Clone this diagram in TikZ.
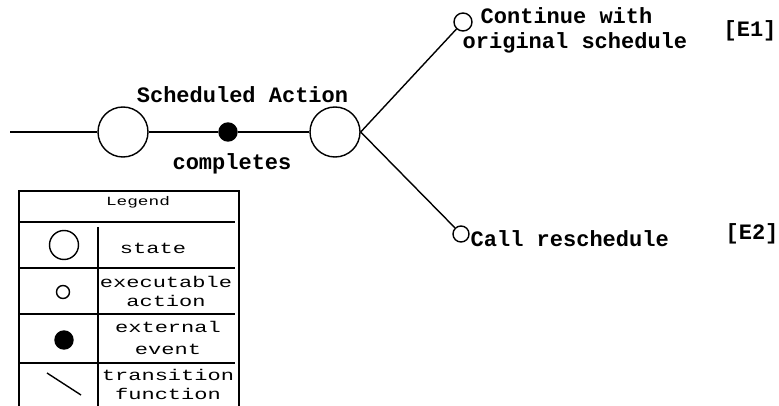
\documentclass[tikz,border=0pt]{standalone}
\usepackage{fontspec}
\usepackage{tikz}
\usetikzlibrary{positioning}
\newfontfamily\diagmono{Liberation Mono}
\newfontfamily\legendmono[FakeStretch=1.42]{Liberation Mono}

\begin{document}
\begin{tikzpicture}[
  x=1pt, y=-1pt,
  every path/.style={line width=1.4pt},
  state/.style={draw, circle, inner sep=0pt, minimum size=50pt},
  action/.style={draw, circle, inner sep=0pt, minimum size=18pt},
  event/.style={draw, fill=black, circle, inner sep=0pt, minimum size=18pt},
  lbl/.style={inner sep=0pt, font=\diagmono\bfseries\fontsize{22}{25}\selectfont},
  ltext/.style={inner sep=0pt, align=center, font=\legendmono\fontsize{15.5}{19}\selectfont}
]
\useasboundingbox (0,0) rectangle (779,406);

% main path
\coordinate (in) at (10,132);
\node[state] (s1) at (123,132) {};
\node[event] (ev) at (228,132) {};
\node[state] (s2) at (335,132) {};
\node[action] (a1) at (463,22) {};
\node[action, minimum size=16pt] (a2) at (461,234) {};

\draw (in) -- (s1);
\draw (s1) -- (ev);
\draw (ev) -- (s2);
\draw (s2.east) -- (a1);
\draw (s2.east) -- (a2);

\node[lbl, anchor=base] (sa) at (242.5,103) {Scheduled Action};
\node[lbl, anchor=base] (cp) at (232,170) {completes};
\node[lbl, anchor=base west] (a1t) at (480,24) {Continue with};
\node[lbl, anchor=base west] (a1u) at (462,49) {original schedule};
\node[lbl] (e1) at (750,31) {[E1]};
\node[lbl, anchor=base west] (a2t) at (470,247) {Call reschedule};
\node[lbl] (e2) at (752,234) {[E2]};

% legend
\draw (19,406) -- (19,191) -- (239,191) -- (239,406);
\draw (19,222) -- (235,222);
\draw (98,227) -- (98,406);
\draw (19,268) -- (235,268);
\draw (19,314) -- (235,314);
\draw (19,363) -- (235,363);

\node[ltext, font=\legendmono\fontsize{12.5}{15}\selectfont] (lg) at (138,202) {Legend};

\node[state, minimum size=29pt] (ls) at (64,245) {};
\node[ltext, anchor=base] (lst) at (153,253) {state};

\node[action, minimum size=13pt] (la) at (63,292) {};
\node[ltext] (lat) at (166,291) {executable\\action};

\node[event, minimum size=18pt] (le) at (64,340) {};
\node[ltext] (let) at (168,338) {external\\[3pt]event};

\coordinate (lt1) at (47,373);
\coordinate (lt2) at (81,395);
\draw (lt1) -- (lt2);
\node[ltext] (ltt) at (168,384) {transition\\function};
\end{tikzpicture}
\end{document}
